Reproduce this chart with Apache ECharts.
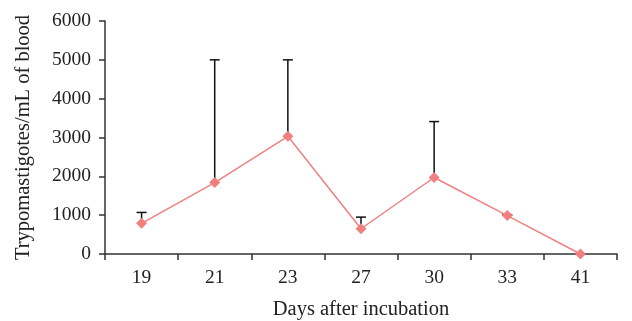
<!DOCTYPE html>
<html><head><meta charset="utf-8">
<script src="https://cdn.jsdelivr.net/npm/echarts@6/dist/echarts.min.js"></script>
<style>html,body{margin:0;padding:0;background:#fff}#c{width:632px;height:321px}</style>
</head><body><div id="c"></div>
<script>
var days = ['19','21','23','27','30','33','41'];
var means = [790, 1840, 3030, 650, 1970, 990, 0];
var upper = [1070, 5000, 5000, 950, 3410, 1010, 0];
var yTicks = [0, 1000, 2000, 3000, 4000, 5000, 6000];

var chart = echarts.init(document.getElementById('c'));
var font = 'Liberation Serif';
var errData = days.map(function(d, i){ return [i, means[i], upper[i]]; });
chart.setOption({
  animation: false,
  grid: {left: 105, right: 15, top: 21, bottom: 67, containLabel: false, outerBoundsMode: 'none'},
  xAxis: {
    type: 'category', data: days, boundaryGap: true,
    name: 'Days after incubation', nameLocation: 'middle', nameGap: 45,
    nameTextStyle: {fontFamily: font, fontSize: 20.5, color: '#222'},
    axisLine: {lineStyle: {color: '#333', width: 1.5}},
    axisTick: {show: true, length: 6, inside: false, lineStyle: {color: '#333', width: 1.5}},
    axisLabel: {fontFamily: font, fontSize: 19.5, color: '#222', margin: 14}
  },
  yAxis: {
    type: 'value', min: yTicks[0], max: yTicks[yTicks.length-1], interval: 1000,
    name: 'Trypomastigotes/mL of blood', nameLocation: 'middle', nameGap: 71,
    nameTextStyle: {fontFamily: font, fontSize: 20.5, color: '#222'},
    axisLine: {show: true, lineStyle: {color: '#333', width: 1.5}},
    axisTick: {show: true, length: 6, lineStyle: {color: '#333', width: 1.5}},
    axisLabel: {fontFamily: font, fontSize: 19.5, color: '#222', margin: 14,
      formatter: function(v){ return String(v); }},
    splitLine: {show: false}
  },
  series: [
    {
      type: 'custom', z: 1,
      renderItem: function(params, api){
        var x = api.value(0);
        var p0 = api.coord([x, api.value(1)]);
        var p1 = api.coord([x, api.value(2)]);
        var style = {stroke: '#111', lineWidth: 1.5};
        return {type: 'group', children: [
          {type: 'line', shape: {x1: p0[0], y1: p0[1], x2: p1[0], y2: p1[1]}, style: style},
          {type: 'line', shape: {x1: p1[0]-5, y1: p1[1], x2: p1[0]+5, y2: p1[1]}, style: style}
        ]};
      },
      encode: {x: 0, y: [1, 2]},
      data: errData
    },
    {
      type: 'line', z: 3, data: means,
      symbol: 'diamond', symbolSize: 11,
      lineStyle: {color: '#f08080', width: 1.5},
      itemStyle: {color: '#f08080'}
    }
  ]
});
</script></body></html>
